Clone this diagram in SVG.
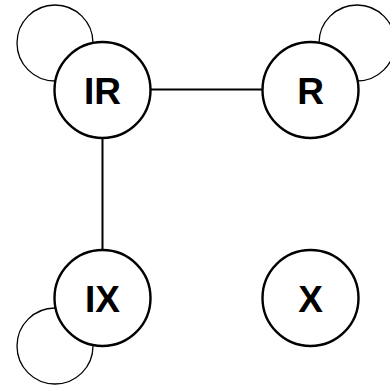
<svg xmlns="http://www.w3.org/2000/svg" width="390" height="385" viewBox="0 0 390 385">
<style>
.loop{fill:none;stroke:#000;stroke-width:1.3}
.edge{fill:none;stroke:#000;stroke-width:2}
.node{fill:#fff;stroke:#000;stroke-width:2.4}
.lbl{font-family:"Liberation Sans",Arial,sans-serif;font-weight:bold;font-size:37px;text-anchor:middle;fill:#000}
</style>
<rect width="390" height="385" fill="#fff"/>
<g id="connectors">
<circle class="loop" cx="55" cy="43" r="38"/>
<circle class="loop" cx="357" cy="43" r="38"/>
<circle class="loop" cx="55" cy="346" r="38"/>
<line class="edge" x1="150" y1="89.5" x2="263" y2="89.5"/>
<line class="edge" x1="102.5" y1="137" x2="102.5" y2="251"/>
</g>
<g id="IR">
<circle class="node" cx="102.5" cy="90" r="48"/>
<text class="lbl" x="102.5" y="104">IR</text>
</g>
<g id="R">
<circle class="node" cx="310.5" cy="90" r="48"/>
<text class="lbl" x="310.5" y="104">R</text>
</g>
<g id="IX">
<circle class="node" cx="102.5" cy="298" r="48"/>
<text class="lbl" x="102.5" y="312">IX</text>
</g>
<g id="X">
<circle class="node" cx="310.5" cy="298" r="48"/>
<text class="lbl" x="310.5" y="312">X</text>
</g>
</svg>
